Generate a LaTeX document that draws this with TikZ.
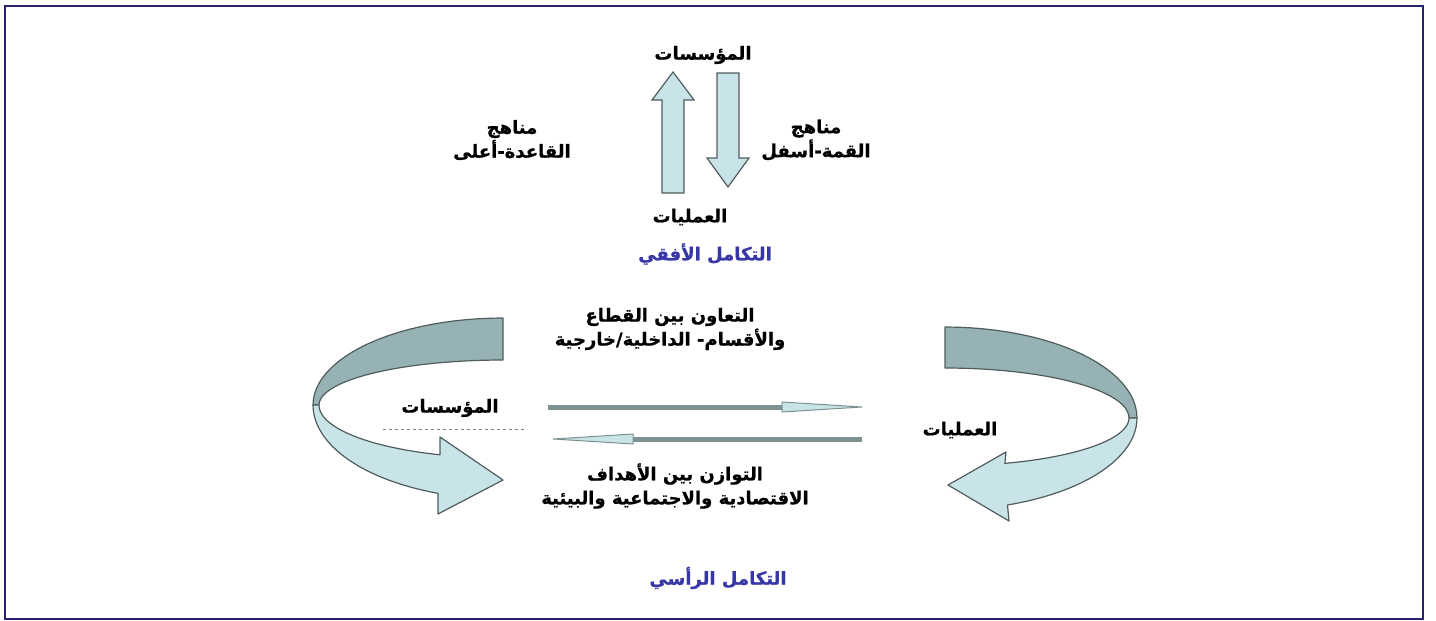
\documentclass[tikz,border=0pt]{standalone}
\usepackage{fontspec}
\newfontfamily\arabicfont[Script=Arabic, BoldFeatures={FakeBold=0.8}]{DejaVu Sans}
\TeXXeTstate=1
\usetikzlibrary{calc}

\definecolor{arrowfill}{RGB}{200,228,232}
\definecolor{ribbondark}{RGB}{150,178,180}
\definecolor{arrowline}{RGB}{80,92,92}
\definecolor{shaftgray}{RGB}{125,145,145}
\definecolor{titleblue}{RGB}{55,55,165}
\definecolor{framenavy}{RGB}{40,35,110}

\tikzset{
  lbl/.style={font=\arabicfont\bfseries\fontsize{18}{24}\selectfont, align=center, inner sep=0pt},
  bluelbl/.style={lbl, text=titleblue},
  frame/.style={draw=framenavy, line width=2.5pt},
  blockarrow/.style={fill=arrowfill, draw=arrowline, line width=1.2pt},
  ribbonback/.style={fill=ribbondark, draw=arrowline, line width=1.2pt, line join=round},
  ribbonfront/.style={fill=arrowfill, draw=arrowline, line width=1.2pt, line join=round},
  shaft/.style={draw=shaftgray, line width=5pt},
  thinhead/.style={fill=arrowfill, draw=shaftgray, line width=1pt},
  dashline/.style={draw=gray, dashed, line width=0.8pt}
}

\begin{document}
\begin{tikzpicture}[x=1pt,y=-1pt]
\useasboundingbox (0,0) rectangle (1436,621);
\draw[frame] (5,6) rectangle (1423,619);

% upper part
\node[lbl] (topinst) at (703,55) {\beginR المؤسسات\endR};
\node[lbl] (leftmeth) at (512,140) {\beginR مناهج\endR\\\beginR القاعدة-أعلى\endR};
\node[lbl] (rightmeth) at (816,140) {\beginR مناهج\endR\\\beginR القمة-أسفل\endR};
\node[lbl] (topops) at (690,217) {\beginR العمليات\endR};
\node[bluelbl] (horiz) at (705,254) {\beginR التكامل الأفقي\endR};

\newcommand{\barrows}{673/193/100/72, 728/73/158/187}
\foreach \cx/\ya/\yb/\yc in \barrows
  \draw[blockarrow] (\cx-11,\ya) -- (\cx-11,\yb) -- (\cx-21,\yb) -- (\cx,\yc)
    -- (\cx+21,\yb) -- (\cx+11,\yb) -- (\cx+11,\ya) -- cycle;

% lower part
\node[lbl] (coop) at (670,329) {\beginR التعاون بين القطاع\endR\\\beginR والأقسام- الداخلية/خارجية\endR};
\node[lbl] (leftinst) at (450,408) {\beginR المؤسسات\endR};
\node[lbl] (rightops) at (960,430) {\beginR العمليات\endR};
\node[lbl] (balance) at (675,486) {\beginR التوازن بين الأهداف\endR\\\beginR الاقتصادية والاجتماعية والبيئية\endR};
\node[bluelbl] (vert) at (718,578) {\beginR التكامل الرأسي\endR};

\draw[dashline] (383,429) -- (527,429);

% left ribbon
\draw[ribbonback] plot[domain=90:180] ({503+190*cos(\x)},{405-87*sin(\x)})
  -- plot[domain=180:90] ({503+184*cos(\x)},{405-45*sin(\x)}) -- cycle;
\draw[ribbonfront] plot[domain=180:250] ({503+190*cos(\x)},{405-94*sin(\x)})
  -- (438,514) -- (503,480) -- (440,437)
  -- plot[domain=250:180] ({503+184*cos(\x)},{405-53*sin(\x)}) -- cycle;

% right ribbon
\draw[ribbonback] plot[domain=90:0] ({945+192*cos(\x)},{418-91*sin(\x)})
  -- plot[domain=0:90] ({945+184*cos(\x)},{418-50*sin(\x)}) -- cycle;
\draw[ribbonfront] plot[domain=0:-71] ({945+192*cos(\x)},{418-92*sin(\x)})
  -- (1009,521) -- (948,485) -- (1006,452)
  -- plot[domain=-71:0] ({945+184*cos(\x)},{418-48*sin(\x)}) -- cycle;

% thin arrows
\coordinate (ua) at (548,407);
\coordinate (ub) at (862,407);
\coordinate (la) at (862,439);
\coordinate (lb) at (553,439);
\foreach \s/\e/\d in {ua/ub/1, la/lb/-1} {
  \draw[shaft] (\s) -- ([shift={(-\d*75,0)}]\e);
  \draw[thinhead] (\e) -- ([shift={(-\d*80,-5)}]\e) -- ([shift={(-\d*80,5)}]\e) -- cycle;
}
\end{tikzpicture}
\end{document}
